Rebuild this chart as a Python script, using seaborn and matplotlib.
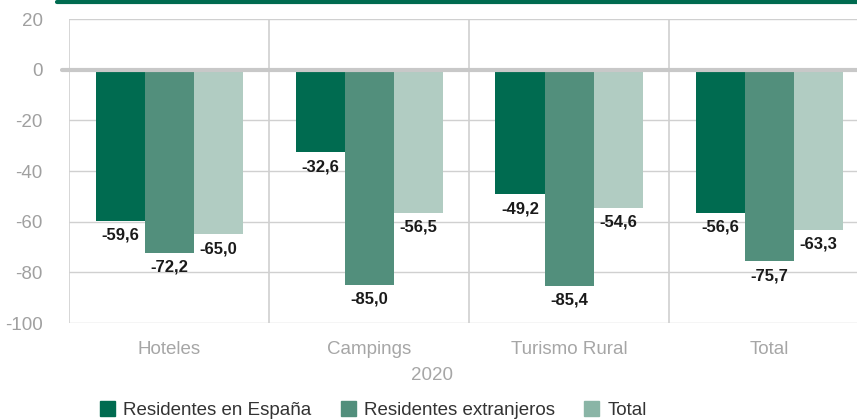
import pandas as pd
import matplotlib.pyplot as plt
import seaborn as sns

categorias = ['Hoteles', 'Campings', 'Turismo Rural', 'Total']
series = ['Residentes en España', 'Residentes extranjeros', 'Total']
residentes_espana = [-59.6, -32.6, -49.2, -56.6]
residentes_extranjeros = [-72.2, -85.0, -85.4, -75.7]
total = [-65.0, -56.5, -54.6, -63.3]
colores = ['#006b50', '#528f7c', '#b1ccc2']

df = pd.DataFrame({
    'categoria': categorias * 3,
    'serie': [series[0]] * 4 + [series[1]] * 4 + [series[2]] * 4,
    'valor': residentes_espana + residentes_extranjeros + total,
})

sns.set_style('white')
plt.rcParams['font.family'] = ['Liberation Sans', 'DejaVu Sans']
plt.rcParams['axes.unicode_minus'] = False

fig = plt.figure(figsize=(8.57, 4.2), dpi=100)
ax = fig.add_axes([69 / 857, 1 - 323 / 420, 788 / 857, 304 / 420])

sns.barplot(data=df, x='categoria', y='valor', hue='serie', palette=colores,
            width=0.735, saturation=1, ax=ax, legend=False, zorder=3, linewidth=0)

# etiquetas bajo cada barra
for cont in ax.containers:
    for rect in cont:
        v = rect.get_height()
        ax.annotate(f'{v:.1f}'.replace('.', ','),
                    (rect.get_x() + rect.get_width() / 2, v),
                    xytext=(0, -5), textcoords='offset points',
                    ha='center', va='top', fontsize=12, fontweight='bold',
                    color='#1a1a1a', zorder=5)

ax.set_ylim(-100, 20)
ax.set_xlim(-0.5, -0.5 + 788 / 200)
ax.set_yticks(range(-100, 21, 20))
ax.grid(axis='y', color='#d0d0d0', linewidth=1, zorder=0)
for xb in [-0.5, 0.5, 1.5, 2.5]:
    ax.axvline(xb, color='#d0d0d0', linewidth=1.2, zorder=0)
ax.axhline(0, color='#c8c8c8', linewidth=3, zorder=4)
ax.plot([-0.5 - 7 / 200, -0.5], [0, 0], color='#c8c8c8', linewidth=3, clip_on=False)

for s in ax.spines.values():
    s.set_visible(False)
ax.set_xlabel('')
ax.set_ylabel('')
ax.tick_params(axis='y', length=7, color='#d0d0d0', labelcolor='#a0a0a0', labelsize=13.5, pad=12)
ax.tick_params(axis='x', length=0, labelcolor='#a6a6a6', labelsize=13.5, pad=13)
ax.set_xticks([-0.5, 0.5, 1.5, 2.5], minor=True)
ax.tick_params(axis='x', which='minor', length=10, color='#d0d0d0', width=1.2)

fig.text(432 / 857, 1 - 375 / 420, '2020', ha='center', va='center', fontsize=13.5, color='#a6a6a6')

# línea superior
fig.add_artist(plt.Line2D([57 / 857, 1], [1 - 1.5 / 420, 1 - 1.5 / 420], color='#006b50', linewidth=3))

handles = [plt.Rectangle((0, 0), 1, 1, color=c) for c in [colores[0], colores[1], '#8ab5a6']]
fig.legend(handles, series, loc='center left', bbox_to_anchor=(100 / 857, 1 - 410 / 420),
           ncol=3, frameon=False, fontsize=13.5, handlelength=0.8, handleheight=0.8,
           handletextpad=0.45, columnspacing=1.55, labelcolor='#333333', borderaxespad=0,
           borderpad=0)

fig.savefig('out.png', dpi=100)
